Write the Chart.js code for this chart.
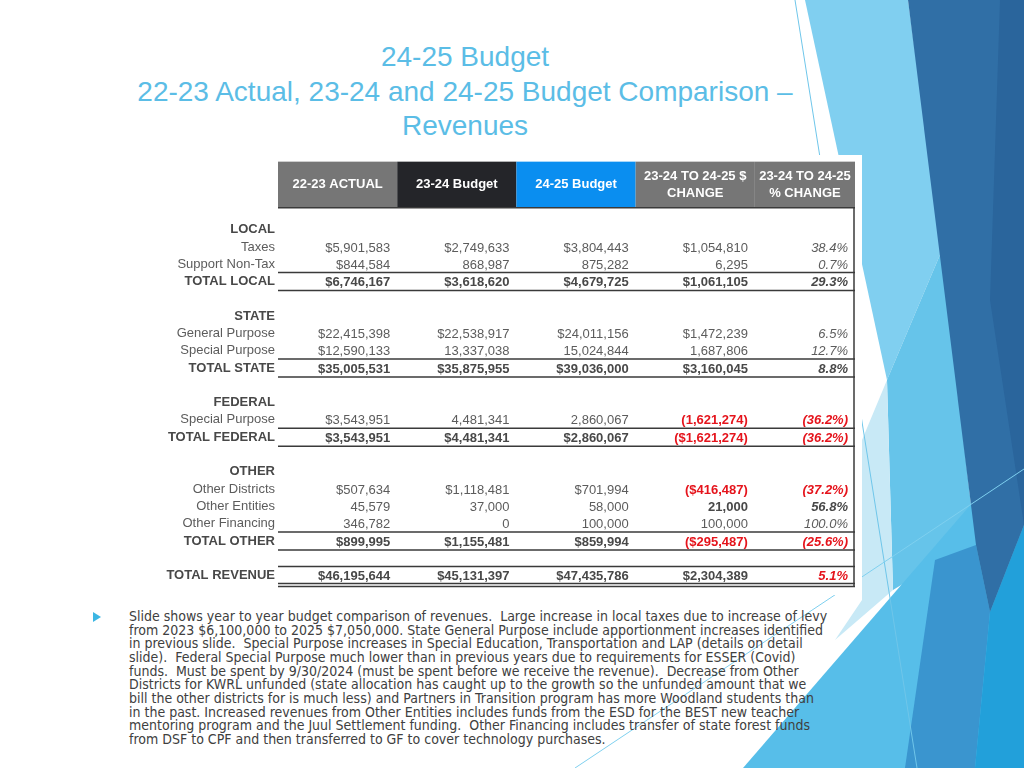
<!DOCTYPE html>
<html>
<head>
<meta charset="utf-8">
<script src="https://cdn.jsdelivr.net/npm/chart.js@4.4.1/dist/chart.umd.min.js"></script>
<style>
  html, body { margin: 0; padding: 0; background: #fff; }
  #slide { position: relative; width: 1024px; height: 768px; overflow: hidden; background: #fff; }
  #deco { position: absolute; left: 0; top: 0; }
  #title {
    position: absolute; left: 0; top: 40px; width: 930px; text-align: center;
    font-family: "Liberation Sans", Arial, sans-serif; font-size: 28px;
    line-height: 34.5px; color: #5bbde6;
  }
  #tableBox { position: absolute; left: 163px; top: 155px; width: 699px; height: 440px; background: #fff; }
  #notes {
    position: absolute; left: 129px; top: 610px; white-space: pre;
    font-family: "DejaVu Sans Condensed", "DejaVu Sans"; font-stretch: condensed;
    font-size: 14px; line-height: 13.67px; color: #404040;
  }
</style>
</head>
<body>
<div id="slide">
  <svg id="deco" width="1024" height="768">
    <polygon points="805,0 908,0 942,250 887,380" fill="#80cff0"/>
    <polygon points="942,250 975,540 893,590 887,380" fill="#66c4ea"/>
    <polygon points="862,440 887,380 893,590 835,640 862,600" fill="#c8e9f6"/>
    <polygon points="743,768 1024,443 1024,768" fill="#57bee9"/>
    <polygon points="935,560 976,545 990,612 975,768 905,768" fill="#3a95cf"/>
    <polygon points="990,612 1024,525 1024,768 975,768" fill="#22a0da"/>
    <polygon points="908,0 1024,0 1024,525 990,612 976,545" fill="#306fa6"/>
    <polygon points="1000,0 1024,0 1024,525 990,300" fill="#2a659c"/>
    <line x1="795" y1="0" x2="917" y2="768" stroke="#6fc6ea" stroke-width="1"/>
    <line x1="575" y1="768" x2="1024" y2="469" stroke="#7fd0ef" stroke-width="1"/>
    <polygon points="93,612 101,617 93,622" fill="#3cb6e3"/>
  </svg>

  <div id="title">24-25 Budget<br>22-23 Actual, 23-24 and 24-25 Budget Comparison –<br>Revenues</div>

  <div id="tableBox"><canvas id="budgetChart" width="699" height="440"></canvas></div>

  <div id="notes">Slide shows year to year budget comparison of revenues.  Large increase in local taxes due to increase of levy
from 2023 $6,100,000 to 2025 $7,050,000. State General Purpose include apportionment increases identified
in previous slide.  Special Purpose increases in Special Education, Transportation and LAP (details on detail
slide).  Federal Special Purpose much lower than in previous years due to requirements for ESSER (Covid)
funds.  Must be spent by 9/30/2024 (must be spent before we receive the revenue).  Decrease from Other
Districts for KWRL unfunded (state allocation has caught up to the growth so the unfunded amount that we
bill the other districts for is much less) and Partners in Transition program has more Woodland students than
in the past. Increased revenues from Other Entities includes funds from the ESD for the BEST new teacher
mentoring program and the Juul Settlement funding.  Other Financing includes transfer of state forest funds
from DSF to CPF and then transferred to GF to cover technology purchases.</div>
</div>

<script>
// rows of the table ("" = spacer row)
const rowLabels = [
  "LOCAL", "Taxes", "Support Non-Tax", "TOTAL LOCAL", "",
  "STATE", "General Purpose", "Special Purpose", "TOTAL STATE", "",
  "FEDERAL", "Special Purpose", "TOTAL FEDERAL", "",
  "OTHER", "Other Districts", "Other Entities", "Other Financing", "TOTAL OTHER", "",
  "TOTAL REVENUE"
];

const columnHeaders = [
  ["22-23 ACTUAL"],
  ["23-24 Budget"],
  ["24-25 Budget"],
  ["23-24 TO 24-25 $", "CHANGE"],
  ["23-24 TO 24-25", "% CHANGE"]
];

const actual2223 = [
  "", "$5,901,583", "$844,584", "$6,746,167", "",
  "", "$22,415,398", "$12,590,133", "$35,005,531", "",
  "", "$3,543,951", "$3,543,951", "",
  "", "$507,634", "45,579", "346,782", "$899,995", "",
  "$46,195,644"
];

const budget2324 = [
  "", "$2,749,633", "868,987", "$3,618,620", "",
  "", "$22,538,917", "13,337,038", "$35,875,955", "",
  "", "4,481,341", "$4,481,341", "",
  "", "$1,118,481", "37,000", "0", "$1,155,481", "",
  "$45,131,397"
];

const budget2425 = [
  "", "$3,804,443", "875,282", "$4,679,725", "",
  "", "$24,011,156", "15,024,844", "$39,036,000", "",
  "", "2,860,067", "$2,860,067", "",
  "", "$701,994", "58,000", "100,000", "$859,994", "",
  "$47,435,786"
];

const changeDollar = [
  "", "$1,054,810", "6,295", "$1,061,105", "",
  "", "$1,472,239", "1,687,806", "$3,160,045", "",
  "", "(1,621,274)", "($1,621,274)", "",
  "", "($416,487)", "21,000", "100,000", "($295,487)", "",
  "$2,304,389"
];

const changePercent = [
  "", "38.4%", "0.7%", "29.3%", "",
  "", "6.5%", "12.7%", "8.8%", "",
  "", "(36.2%)", "(36.2%)", "",
  "", "(37.2%)", "56.8%", "100.0%", "(25.6%)", "",
  "5.1%"
];

// rows whose change cells are printed in bold / red in the source
const emphasisRows = ["Other Entities"];
const positiveRedRows = ["TOTAL REVENUE"];

const tableColumns = [actual2223, budget2324, budget2425, changeDollar, changePercent];
const headerColors = ["#767676", "#242529", "#0a8ef0", "#767676", "#767676"];

const FONT = '"Liberation Sans", Arial, sans-serif';
const isBoldRow = (label) => label !== "" && label === label.toUpperCase();

const tablePlugin = {
  id: "budgetTable",
  afterDraw(chart) {
    const { ctx } = chart;
    const x = chart.scales.x;
    const y = chart.scales.y;
    const firstRow = y.getPixelForValue(0);
    const left = x.getPixelForValue(0);
    const right = x.getPixelForValue(x.max);
    const headerTop = firstRow - 68;
    const headerBottom = firstRow - 22;
    const lastRow = y.getPixelForValue(rowLabels.length - 1);

    ctx.save();

    // header cells
    columnHeaders.forEach((lines, c) => {
      const x0 = x.getPixelForValue(c);
      const x1 = x.getPixelForValue(Math.min(c + 1, x.max));
      ctx.fillStyle = headerColors[c];
      ctx.fillRect(x0, headerTop, x1 - x0, headerBottom - headerTop);
      ctx.fillStyle = "#ffffff";
      ctx.font = "bold 13px " + FONT;
      ctx.textAlign = "center";
      ctx.textBaseline = "middle";
      const mid = (headerTop + headerBottom) / 2;
      lines.forEach((t, i) => {
        const yy = mid + (i - (lines.length - 1) / 2) * 17;
        ctx.fillText(t, (x0 + x1) / 2, yy);
      });
    });

    ctx.strokeStyle = "#3a3a3a";
    ctx.lineWidth = 1.5;
    const hline = (yy) => {
      ctx.beginPath();
      ctx.moveTo(left, yy);
      ctx.lineTo(right, yy);
      ctx.stroke();
    };

    // header underline and right border
    hline(headerBottom);
    ctx.beginPath();
    ctx.moveTo(right - 1, headerBottom);
    ctx.lineTo(right - 1, lastRow + 11);
    ctx.stroke();

    // boxes around total rows
    rowLabels.forEach((label, r) => {
      if (!label.startsWith("TOTAL")) return;
      const yc = y.getPixelForValue(r);
      hline(yc - 9);
      if (label === "TOTAL REVENUE") {
        hline(yc + 8);
        hline(yc + 11);
      } else {
        hline(yc + 9);
      }
    });

    // cell values
    ctx.textAlign = "right";
    ctx.textBaseline = "middle";
    tableColumns.forEach((values, c) => {
      const xr = x.getPixelForValue(Math.min(c + 1, x.max)) - 7;
      values.forEach((text, r) => {
        if (!text) return;
        const label = rowLabels[r];
        const negative = text.startsWith("(");
        const red = negative || (c === 4 && positiveRedRows.includes(label));
        const bold = isBoldRow(label) || negative || (c >= 3 && emphasisRows.includes(label));
        const italic = c === 4;
        ctx.font = (italic ? "italic " : "") + (bold ? "bold " : "") + "13px " + FONT;
        ctx.fillStyle = red ? "#e5141c" : (bold ? "#484848" : "#5c5c5c");
        ctx.fillText(text, xr, y.getPixelForValue(r) + 1);
      });
    });

    ctx.restore();
  }
};

new Chart(document.querySelector("#budgetChart"), {
  type: "scatter",
  data: { datasets: [] },
  options: {
    responsive: false,
    animation: false,
    layout: { padding: { top: 66, bottom: 8, left: 0, right: 7 } },
    plugins: {
      legend: { display: false },
      tooltip: { enabled: false },
    },
    scales: {
      x: { type: "linear", min: 0, max: 4.84, display: false },
      y: {
        type: "category",
        labels: rowLabels,
        offset: true,
        position: "left",
        grid: { display: false, drawTicks: false },
        border: { display: false },
        ticks: {
          autoSkip: false,
          padding: 3,
          font: (c) => ({
            family: FONT,
            size: 13,
            weight: isBoldRow(rowLabels[c.index] || "") ? "bold" : "normal",
          }),
          color: (c) => (isBoldRow(rowLabels[c.index] || "") ? "#484848" : "#5c5c5c"),
        },
        afterFit: (scale) => {
          scale.width = 115;
        },
      },
    },
  },
  plugins: [tablePlugin],
});
</script>
</body>
</html>
